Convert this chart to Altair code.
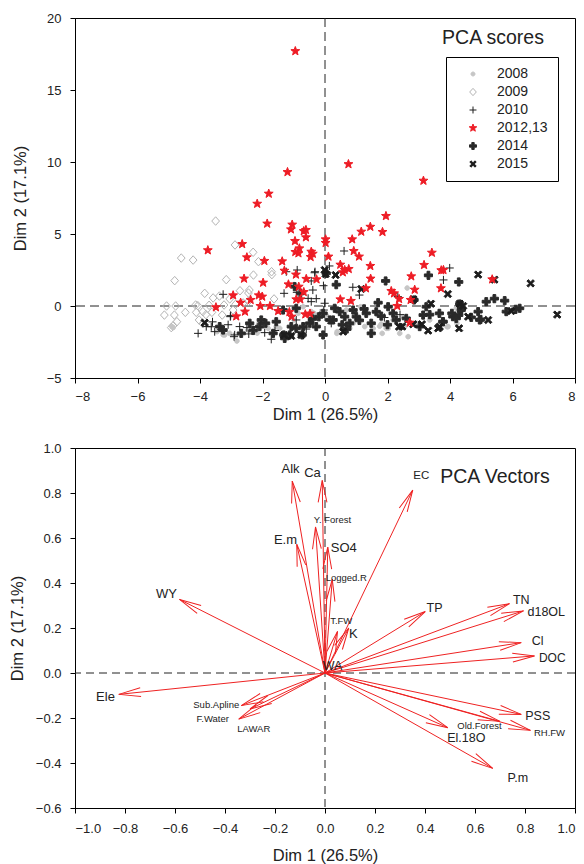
import math
import altair as alt
import pandas as pd

FONT = "Liberation Sans"
TXT = "#222222"

# ---------------- PCA scores (top panel) ----------------
groups = ["2008", "2009", "2010", "2012,13", "2014", "2015"]

s2008_x = [-4.9, -4.86, -2.82, -3.26, -2.41, -2.17, -1.56, -1.45, -1.34, -0.99, -0.86, -0.44, -0.28, 0.04,
           0.38, 0.68, 0.9, 1.14, 1.27, 1.64, 1.8, 2.02, 2.39, 2.5, 2.66, 2.63, 2.92, 3.35, 3.94, 4.22,
           2.55, 2.18, -1.82, -2.47, -3.05, -3.45, -0.7, 1.0, 1.54, 1.83, 4.2, 3.91, 1.96, 1.75, 0.79,
           -2.36, -0.35, 0.39, -3.21]
s2008_y = [-1.43, -1.5, -2.43, -2.0, -1.43, -1.88, -1.43, -1.55, -2.13, -0.97, -0.51, -0.39, -0.74, -0.63,
           -1.9, -0.28, -1.2, -0.05, -1.43, -0.51, -1.25, -1.55, -1.9, -0.74, -2.13, 1.25, -1.2, -0.97,
           -1.43, -1.2, -1.43, -0.97, -1.55, -1.67, -1.9, -1.78, -0.05, -0.86, -1.55, -1.9, -0.16, -1.44,
           -1.55, -1.4, -1.55, -1.3, -0.51, -1.78, -2.01]

s2009_x = [-3.5, -4.6, -4.22, -2.88, -2.3, -2.13, -4.81, -3.16, -1.71, -1.7, -2.29, -3.85, -3.38, -2.72,
           -2.42, -2.45, -1.63, -3.58, -3.05, -5.07, -4.78, -4.14, -4.07, -3.71, -3.23, -2.86, -5.14,
           -4.82, -4.47, -4.12, -3.91, -3.81, -3.62, -4.86, -4.92, -4.74, -4.03, -3.91, -3.29, -2.94,
           -2.45, -2.62]
s2009_y = [5.9, 3.33, 3.19, 4.24, 3.73, 3.08, 1.76, 1.83, 2.38, 2.18, 2.15, 0.88, 0.69, 1.06, 1.11, 0.9,
           0.49, 0.56, 0.49, 0.0, 0.0, 0.07, 0.02, 0.05, 0.07, 0.12, -0.63, -0.63, -0.44, -0.44, -0.39,
           -0.6, -0.44, -1.37, -1.5, -1.09, -0.97, -1.23, -0.63, -0.28, 0.32, 0.21]

s2010_x = [-3.26, -4.06, -3.8, -3.53, -3.32, -3.02, -2.89, -2.73, -2.44, -2.17, -1.93, -1.72, -1.31, -1.24,
           -0.89, -0.32, -0.44, -0.39, -0.99, -0.9, -0.54, -0.28, -0.05, 0.14, 0.61, 0.89, 1.1, 3.99,
           3.79, 2.33, -0.44, -0.92, -0.04, -0.33, -0.01, -3.6, -3.1, -2.5, -1.6, -0.6, 0.2, 1.9, 2.4,
           -3.64, -3.03, -2.91]
s2010_y = [0.81, -1.9, -1.43, -1.78, -1.62, -0.67, -2.01, -1.43, -1.94, -1.43, -1.85, -2.31, 0.88, 2.38,
           2.5, 2.38, 1.74, 1.11, 1.39, 0.95, 0.53, 0.51, 1.41, 2.78, 3.82, 1.3, 0.76, 2.64, 1.81, 0.65,
           0.3, -0.97, -0.28, 2.31, 0.19, -1.1, -1.3, -1.5, -1.7, -1.6, -1.2, -0.8, -0.6, -1.44, -0.74,
           -2.13]

s2012_x = [-0.95, 0.75, -1.2, -1.8, 3.15, -2.17, -1.85, -1.05, -1.09, -0.68, -0.61, -0.61, -0.96, -0.82,
           -0.85, -0.95, -0.44, -0.39, -0.46, 0.02, 0.02, 0.11, -2.65, -3.75, -2.5, -1.94, -1.37, -1.3,
           -0.93, -2.59, -1.98, -1.17, -0.6, -0.27, -0.84, -0.68, -2.94, -2.12, -2.01, -2.38, -2.7,
           -2.07, -1.76, -3.49, -2.56, -1.5, -1.14, -1.07, -2.84, -0.92, -0.79, -0.63, -0.48, 0.87,
           1.16, 1.45, 1.84, 1.95, 0.92, 1.09, 0.49, 0.57, 0.76, 0.63, 1.45, 1.46, 1.31, 2.12, 2.21,
           2.37, 2.31, 2.76, 3.17, 3.42, 3.72, 3.79, 2.87, 2.74, 3.71, 5.35, 2.71, 0.49, 0.83]
s2012_y = [17.7, 9.85, 9.3, 7.8, 8.7, 7.1, 5.72, 5.65, 5.32, 5.2, 5.28, 4.77, 4.51, 4.0, 3.66, 3.75, 3.77,
           3.63, 3.4, 4.63, 4.38, 3.43, 4.3, 3.87, 3.38, 3.13, 3.1, 2.45, 2.18, 1.9, 1.62, 1.5, 1.88,
           1.85, 1.34, 0.97, 0.74, 0.74, 0.65, 0.42, 0.23, 0.0, 0.0, -0.09, -0.39, -0.35, -0.42, -0.74,
           -0.72, 0.46, 0.46, -0.58, -0.53, 4.63, 5.16, 5.5, 5.14, 6.25, 3.82, 3.43, 2.87, 2.34, 2.57,
           2.5, 2.78, 1.9, 1.23, 1.04, 0.88, 0.49, 0.0, 2.06, 2.85, 3.7, 2.48, 2.5, 1.13, 0.42, 1.23,
           1.85, -1.16, 0.46, 0.35]

s2014_x = [1.94, 0.36, 3.31, 4.28, 5.16, 5.42, 5.75, 6.1, 6.23, 5.8, 4.95, 4.9, 4.28, 4.09, 3.77, 3.66,
           3.35, 3.14, 3.03, 3.24, 2.85, 1.7, 1.64, 2.02, 2.18, 2.28, 2.6, 1.48, 1.48, 1.32, 1.0, 0.9,
           0.79, 0.63, 0.47, 0.31, 0.26, 0.15, -0.06, -0.06, -0.28, -0.49, -0.7, -0.73, -0.92, -1.08,
           -1.13, -1.29, -1.32, -1.56, -1.66, -2.04, -2.09, -2.41, -2.68, -3.26, -3.37, -0.92, -1.34,
           -0.97, -0.79, 0.04, 4.31, 4.37, 4.06, 4.68, 4.98, 4.2, 3.78, 4.36, 1.1, 1.25, 0.55, -0.4,
           -1.9, -2.3, 2.0, -0.2, 0.7, 1.8]
s2014_y = [1.74, 1.48, 2.13, 1.67, 0.3, 0.51, 0.37, -0.23, -0.16, -0.39, -0.97, -0.39, -0.63, -0.74,
           -1.09, -0.51, -0.6, -0.63, -1.43, -0.05, 0.42, 0.23, -0.4, -0.05, -0.51, -0.97, -0.86, -1.9,
           -1.2, -0.51, -0.74, -0.28, -1.2, -0.74, -0.39, -0.16, -0.97, -0.97, -0.51, -2.01, -1.43,
           -1.2, -1.43, -2.01, -1.55, -1.43, -2.01, -2.25, -2.01, -1.09, -1.9, -0.97, -1.43, -1.2, -1.9,
           -1.67, -1.43, -0.16, -0.28, 1.34, 0.88, 2.27, 0.14, -0.16, -0.51, -0.79, -0.93, -0.86, -1.09,
           -0.28, -1.0, -0.2, -1.3, -0.9, -1.2, -1.7, -1.3, -0.75, -1.6, -0.7]

s2015_x = [6.58, 7.43, 4.9, 5.42, 3.93, 3.39, 4.31, 2.83, 1.16, 0.34, 0.02, -0.01, 2.47, 3.62, 3.3, 3.1,
           2.82, 4.29, 4.58, 5.22, 5.96, 0.58, -1.31, -1.08, -0.76, -3.85, 2.37, 3.67, 4.42]
s2015_y = [1.57, -0.6, 2.18, 1.83, 0.83, 0.16, 0.16, 0.46, 1.18, 2.15, 2.22, 2.5, -1.43, -1.55, -1.71,
           -1.27, -1.27, -1.55, -0.74, -0.97, -0.35, -1.78, -2.01, -2.08, -2.01, -1.16, -1.44, -1.44, 0.0]

# ---------------- PCA vectors (bottom panel) ----------------
vec_names = ["WY", "Alk", "Ca", "EC", "Y.Forest", "E.m", "SO4", "Logged.R", "TP", "TN", "d18OL", "T.FW",
             "K", "Cl", "DOC", "Ele", "Sub.Apline", "F.Water", "LAWAR", "PSS", "Old.Forest", "El.18O",
             "RH.FW", "P.m"]
vec_x = [-0.582, -0.131, -0.011, 0.351, -0.038, -0.113, 0.011, 0.029, 0.401, 0.738, 0.794, 0.05,
         0.095, 0.785, 0.838, -0.825, -0.335, -0.345, -0.30, 0.785, 0.70, 0.491, 0.822, 0.671]
vec_y = [0.327, 0.853, 0.856, 0.813, 0.649, 0.572, 0.56, 0.416, 0.273, 0.308, 0.276, 0.185,
         0.20, 0.135, 0.076, -0.095, -0.145, -0.205, -0.16, -0.184, -0.215, -0.243, -0.255, -0.424]

lab_text = ["WY", "Alk", "Ca", "EC", "Y. Forest", "E.m", "SO4", "Logged.R", "TP", "TN", "d18OL", "T.FW",
            "K", "Cl", "DOC", "Ele", "Sub.Apline", "F.Water", "LAWAR", "PSS", "Old.Forest", "El.18O",
            "RH.FW", "P.m", "WA"]
lab_x = [-0.634, -0.138, -0.05, 0.385, 0.03, -0.158, 0.075, 0.085, 0.438, 0.785, 0.885, 0.065,
         0.113, 0.851, 0.909, -0.878, -0.435, -0.449, -0.285, 0.851, 0.618, 0.565, 0.898, 0.771, 0.03]
lab_y = [0.351, 0.905, 0.888, 0.876, 0.679, 0.591, 0.554, 0.424, 0.287, 0.323, 0.273, 0.231,
         0.172, 0.142, 0.068, -0.105, -0.142, -0.206, -0.247, -0.191, -0.236, -0.288, -0.265, -0.468,
         0.031]
lab_size = [13, 13, 13, 11.5, 9.5, 13, 13, 9.5, 12.5, 12.5, 12.5, 9.5,
            13, 12.5, 12, 13, 9.5, 9.5, 9.5, 12.5, 9.5, 12.5, 9.5, 12.5, 12.5]

# ---------------- marker shapes ----------------
def star_path(R=1.2, r=0.5):
    pts = []
    for i in range(10):
        a = -math.pi / 2 + i * math.pi / 5
        rr = R if i % 2 == 0 else r
        pts.append((rr * math.cos(a), rr * math.sin(a)))
    return "M" + "L".join(f"{x:.3f},{y:.3f}" for x, y in pts) + "Z"

def cross_path(h=0.38, e=1.1, rot=0.0):
    pts = [(-h, -e), (h, -e), (h, -h), (e, -h), (e, h), (h, h), (h, e), (-h, e), (-h, h), (-e, h), (-e, -h), (-h, -h)]
    c, s = math.cos(rot), math.sin(rot)
    pts = [(x * c - y * s, x * s + y * c) for x, y in pts]
    return "M" + "L".join(f"{x:.3f},{y:.3f}" for x, y in pts) + "Z"

shape_paths = [
    "M-0.6,0A0.6,0.6,0,1,0,0.6,0A0.6,0.6,0,1,0,-0.6,0Z",
    "M0,-1.1L1.0,0L0,1.1L-1.0,0Z",
    "M-1.05,0L1.05,0M0,-1.05L0,1.05",
    star_path(),
    cross_path(0.36, 1.05),
    cross_path(0.26, 1.1, math.pi / 4),
]
fills = ["#c6c6c6", "transparent", "transparent", "#ee1c25", "#2a2a2a", "#1c1c1c"]
strokes = ["#c6c6c6", "#b3b3b3", "#1c1c1c", "#ee1c25", "#2a2a2a", "#1c1c1c"]

draw_order = [("2009", s2009_x, s2009_y), ("2008", s2008_x, s2008_y), ("2010", s2010_x, s2010_y),
              ("2014", s2014_x, s2014_y), ("2015", s2015_x, s2015_y), ("2012,13", s2012_x, s2012_y)]
rows = []
for g, xs, ys in draw_order:
    for xv, yv in zip(xs, ys):
        rows.append({"x": xv, "y": yv, "year": g})
scores = pd.DataFrame(rows)

legend = alt.Legend(title=None, orient="none", legendX=371, legendY=39, strokeColor="black",
                    fillColor="white", padding=10, labelFont=FONT, labelFontSize=14, labelColor=TXT,
                    symbolSize=44, symbolStrokeWidth=1, rowPadding=4, labelOffset=17, symbolOffset=10)

zero = pd.DataFrame({"x": [0.0], "y": [0.0]})

sx = alt.Scale(domain=[-8, 8], nice=False, zero=False)
sy = alt.Scale(domain=[-5, 20], nice=False, zero=False)
ax_x1 = alt.Axis(values=list(range(-8, 9, 2)), labelPadding=7, titlePadding=3)
ax_y1 = alt.Axis(values=list(range(-5, 21, 5)), titlePadding=18)
T1 = "Dim 1 (26.5%)"
T2 = "Dim 2 (17.1%)"

pts = alt.Chart(scores).mark_point(filled=True, size=60, strokeWidth=1, opacity=1).encode(
    x=alt.X("x:Q", scale=sx, axis=ax_x1, title=T1),
    y=alt.Y("y:Q", scale=sy, axis=ax_y1, title=T2),
    shape=alt.Shape("year:N", scale=alt.Scale(domain=groups, range=shape_paths), legend=legend),
    fill=alt.Fill("year:N", scale=alt.Scale(domain=groups, range=fills), legend=legend),
    stroke=alt.Stroke("year:N", scale=alt.Scale(domain=groups, range=strokes), legend=legend),
)
v1 = alt.Chart(zero).mark_rule(color=TXT, strokeDash=[9, 5], strokeWidth=1).encode(
    x=alt.X("x:Q", scale=sx, title=T1))
h1 = alt.Chart(zero).mark_rule(color=TXT, strokeDash=[9, 5], strokeWidth=1).encode(
    y=alt.Y("y:Q", scale=sy, title=T2))
t1 = alt.Chart(zero).mark_text(text="PCA scores", font=FONT, fontSize=19.5, color=TXT,
                               align="center", baseline="middle").encode(
    x=alt.value(418), y=alt.value(20))

top = alt.layer(v1, h1, pts, t1).properties(width=500, height=360)

# bottom
vec = pd.DataFrame({"name": vec_names, "x": vec_x, "y": vec_y})
vec["ox"] = 0.0
vec["oy"] = 0.0
vec["ang"] = [(math.degrees(math.atan2(a * 250.0, b * 225.0)) + 360.0) % 360.0 for a, b in zip(vec_x, vec_y)]
labs = pd.DataFrame({"text": lab_text, "x": lab_x, "y": lab_y, "fs": lab_size})

bx = alt.Scale(domain=[-1.0, 1.0], nice=False, zero=False)
by = alt.Scale(domain=[-0.6, 1.0], nice=False, zero=False)
ax_x2 = alt.Axis(values=[round(-1.0 + 0.2 * i, 1) for i in range(11)], format=".1f", titlePadding=12)
ax_y2 = alt.Axis(values=[round(-0.6 + 0.2 * i, 1) for i in range(9)], format=".1f", titlePadding=10)
RED = "#ee2222"

v2 = alt.Chart(zero).mark_rule(color=TXT, strokeDash=[8, 5], strokeWidth=1).encode(
    x=alt.X("x:Q", scale=bx, axis=ax_x2, title=T1))
h2 = alt.Chart(zero).mark_rule(color=TXT, strokeDash=[8, 5], strokeWidth=1).encode(
    y=alt.Y("y:Q", scale=by, axis=ax_y2, title=T2))
shafts = alt.Chart(vec).mark_rule(color=RED, strokeWidth=1).encode(
    x=alt.X("ox:Q", scale=bx, title=T1), y=alt.Y("oy:Q", scale=by, title=T2),
    x2="x:Q", y2="y:Q")
heads = alt.Chart(vec).mark_point(shape="M-0.22,1.1L0,0L0.22,1.1", size=1600, filled=False,
                                  stroke=RED, strokeWidth=1, opacity=1).encode(
    x=alt.X("x:Q", scale=bx, title=T1), y=alt.Y("y:Q", scale=by, title=T2),
    angle=alt.Angle("ang:Q", scale=None))
texts = alt.Chart(labs).mark_text(font=FONT, color=TXT, align="center", baseline="middle").encode(
    x=alt.X("x:Q", scale=bx, title=T1), y=alt.Y("y:Q", scale=by, title=T2),
    text="text:N", size=alt.Size("fs:Q", scale=None))
t2 = alt.Chart(zero).mark_text(text="PCA Vectors", font=FONT, fontSize=19.5, color=TXT,
                               align="center", baseline="middle").encode(
    x=alt.value(420), y=alt.value(29))

bottom = alt.layer(v2, h2, shafts, heads, texts, t2).properties(width=500, height=360)

chart = alt.vconcat(top, bottom, spacing=18).properties(
    padding={"left": 8, "top": 11, "right": 4, "bottom": 0}
).configure_view(stroke="black", strokeWidth=1).configure_axis(
    labelFont=FONT, labelFontSize=13, labelColor=TXT, titleFont=FONT, titleFontSize=16.5,
    titleFontWeight="normal", titleColor=TXT, tickColor="black", domainColor="black",
    tickSize=5, grid=False, labelPadding=9
)

chart.save("out.html", embed_options={"renderer": "svg", "actions": False})
